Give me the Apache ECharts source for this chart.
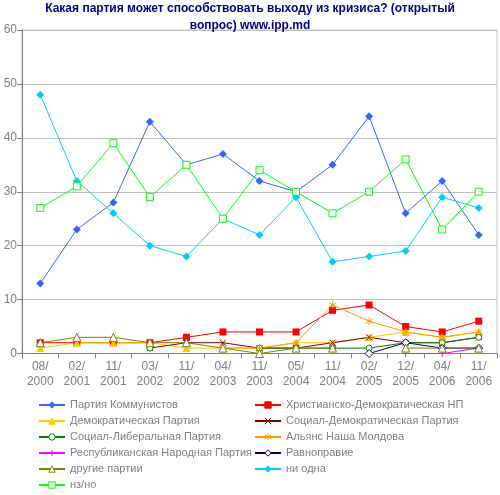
<!DOCTYPE html>
<html>
<head>
<meta charset="utf-8">
<script src="https://cdn.jsdelivr.net/npm/echarts@6/dist/echarts.min.js"></script>
<style>
html,body{margin:0;padding:0;background:#fff;}
#chart{width:500px;height:495px;}
</style>
</head>
<body>
<div id="chart"></div>
<script>
// опрос ИПП: какая партия может способствовать выходу из кризиса
var categories = ['08/\n2000','02/\n2001','11/\n2001','03/\n2002','11/\n2002','04/\n2003','11/\n2003','05/\n2004','11/\n2004','02/\n2005','12/\n2005','04/\n2006','11/\n2006'];
var yTicks = [0, 60, 10];

var pcrm   = [13,23,28,43,35,37,32,30,35,44,26,32,22];
var ppcd   = [2,2,2,2,3,4,4,4,8,9,5,4,6];
var pd     = [1,2,2,2,1,1,1,2,2,3,4,3,4];
var psdm   = [null,null,null,1,2,2,1,1,2,3,2,2,3];
var psl    = [null,null,null,1,null,null,1,1,1,1,2,2,3];
var amn    = [null,null,null,null,null,1,1,2,9,6,4,3,4];
var prn    = [null,null,null,null,null,null,null,null,null,null,0,0,1];
var ravn   = [null,null,null,null,null,null,null,null,null,0,2,1,1];
var none   = [48,32,26,20,18,25,22,29,17,18,19,29,27];
var others = [2,3,3,2,2,1,0,1,1,null,1,1,1];
var nzno   = [27,31,39,29,35,25,34,30,26,30,36,23,30];

var leftNames = ['Партия Коммунистов','Демократическая Партия','Социал-Либеральная Партия','Республиканская Народная Партия','другие партии','нз/но'];
var rightNames = ['Христианско-Демократическая НП','Социал-Демократическая Партия','Альянс Наша Молдова','Равноправие','ни одна'];

var crossPath = 'path://M0,0L10,10M10,0L0,10';
var plusPath = 'path://M5,0L5,10M0,5L10,5';
var starPath = 'path://M5,0L5,10M0,2L10,8M10,2L0,8';

// hollow: белая заливка и цветная обводка
function mk(name, data, color, symbol, size, stroke, hollow){
	return {
		name: name,
		type: 'line',
		data: data,
		symbol: symbol,
		symbolSize: size,
		showAllSymbol: true,
		connectNulls: false,
		animation: false,
		lineStyle: {color: color, width: 1},
		itemStyle: {color: hollow ? '#fff' : color, borderColor: color, borderWidth: stroke ? 1 : 0},
		emphasis: {disabled: true}
	};
}

var font = 'Liberation Sans';
var grey = '#808080';
var legendText = {fontFamily: font, fontSize: 11, color: grey, lineHeight: 14};

var eChart = echarts.init(document.getElementById('chart'));
var option = {
	animation: false,
	title: {
		text: 'Какая партия может способствовать выходу из кризиса? (открытый\nвопрос) www.ipp.md',
		left: 'center',
		top: 0,
		padding: 0,
		textStyle: {fontFamily: font, fontSize: 12, fontWeight: 'bold', color: '#000080', lineHeight: 17}
	},
	legend: [{
		data: leftNames,
		orient: 'vertical',
		left: 38, top: 398, height: 110,
		padding: 0,
		itemWidth: 26, itemHeight: 8, itemGap: 2,
		itemStyle: {borderWidth: 1},
		textStyle: legendText
	},{
		data: rightNames,
		orient: 'vertical',
		left: 254, top: 398, height: 110,
		padding: 0,
		itemWidth: 26, itemHeight: 8, itemGap: 2,
		itemStyle: {borderWidth: 1},
		textStyle: legendText
	}],
	grid: {left: 22, right: 3, top: 30, bottom: 141.5, show: true, borderColor: '#c0c0c0', borderWidth: 1},
	xAxis: {
		type: 'category',
		data: categories,
		boundaryGap: true,
		axisLine: {lineStyle: {color: grey}},
		axisTick: {show: true, length: 5, lineStyle: {color: grey}},
		axisLabel: {fontFamily: font, fontSize: 12, color: grey, lineHeight: 15, margin: 6, interval: 0}
	},
	yAxis: {
		type: 'value',
		min: yTicks[0], max: yTicks[1], interval: yTicks[2],
		axisLine: {show: true, lineStyle: {color: grey}},
		axisTick: {show: true, length: 5, lineStyle: {color: grey}},
		splitLine: {lineStyle: {color: '#c0c0c0'}},
		axisLabel: {fontFamily: font, fontSize: 12, color: grey, margin: 5}
	},
	series: [
		mk('Партия Коммунистов', pcrm, '#3366ff', 'diamond', 8, false, false),
		mk('Христианско-Демократическая НП', ppcd, '#ff0000', 'rect', 7, false, false),
		mk('Демократическая Партия', pd, '#ffcc00', 'triangle', 8, false, false),
		mk('Социал-Демократическая Партия', psdm, '#800000', crossPath, 6, true, false),
		mk('Социал-Либеральная Партия', psl, '#008000', 'circle', 6, true, true),
		mk('Альянс Наша Молдова', amn, '#ff9900', starPath, 7, true, false),
		mk('Республиканская Народная Партия', prn, '#ff00ff', plusPath, 7, true, false),
		mk('Равноправие', ravn, '#000080', 'diamond', 8, true, true),
		mk('ни одна', none, '#00ccff', 'diamond', 8, false, false),
		mk('другие партии', others, '#808000', 'triangle', 8, true, true),
		mk('нз/но', nzno, '#00ff00', 'rect', 7, true, true)
	]
};
eChart.setOption(option);
</script>
</body>
</html>
